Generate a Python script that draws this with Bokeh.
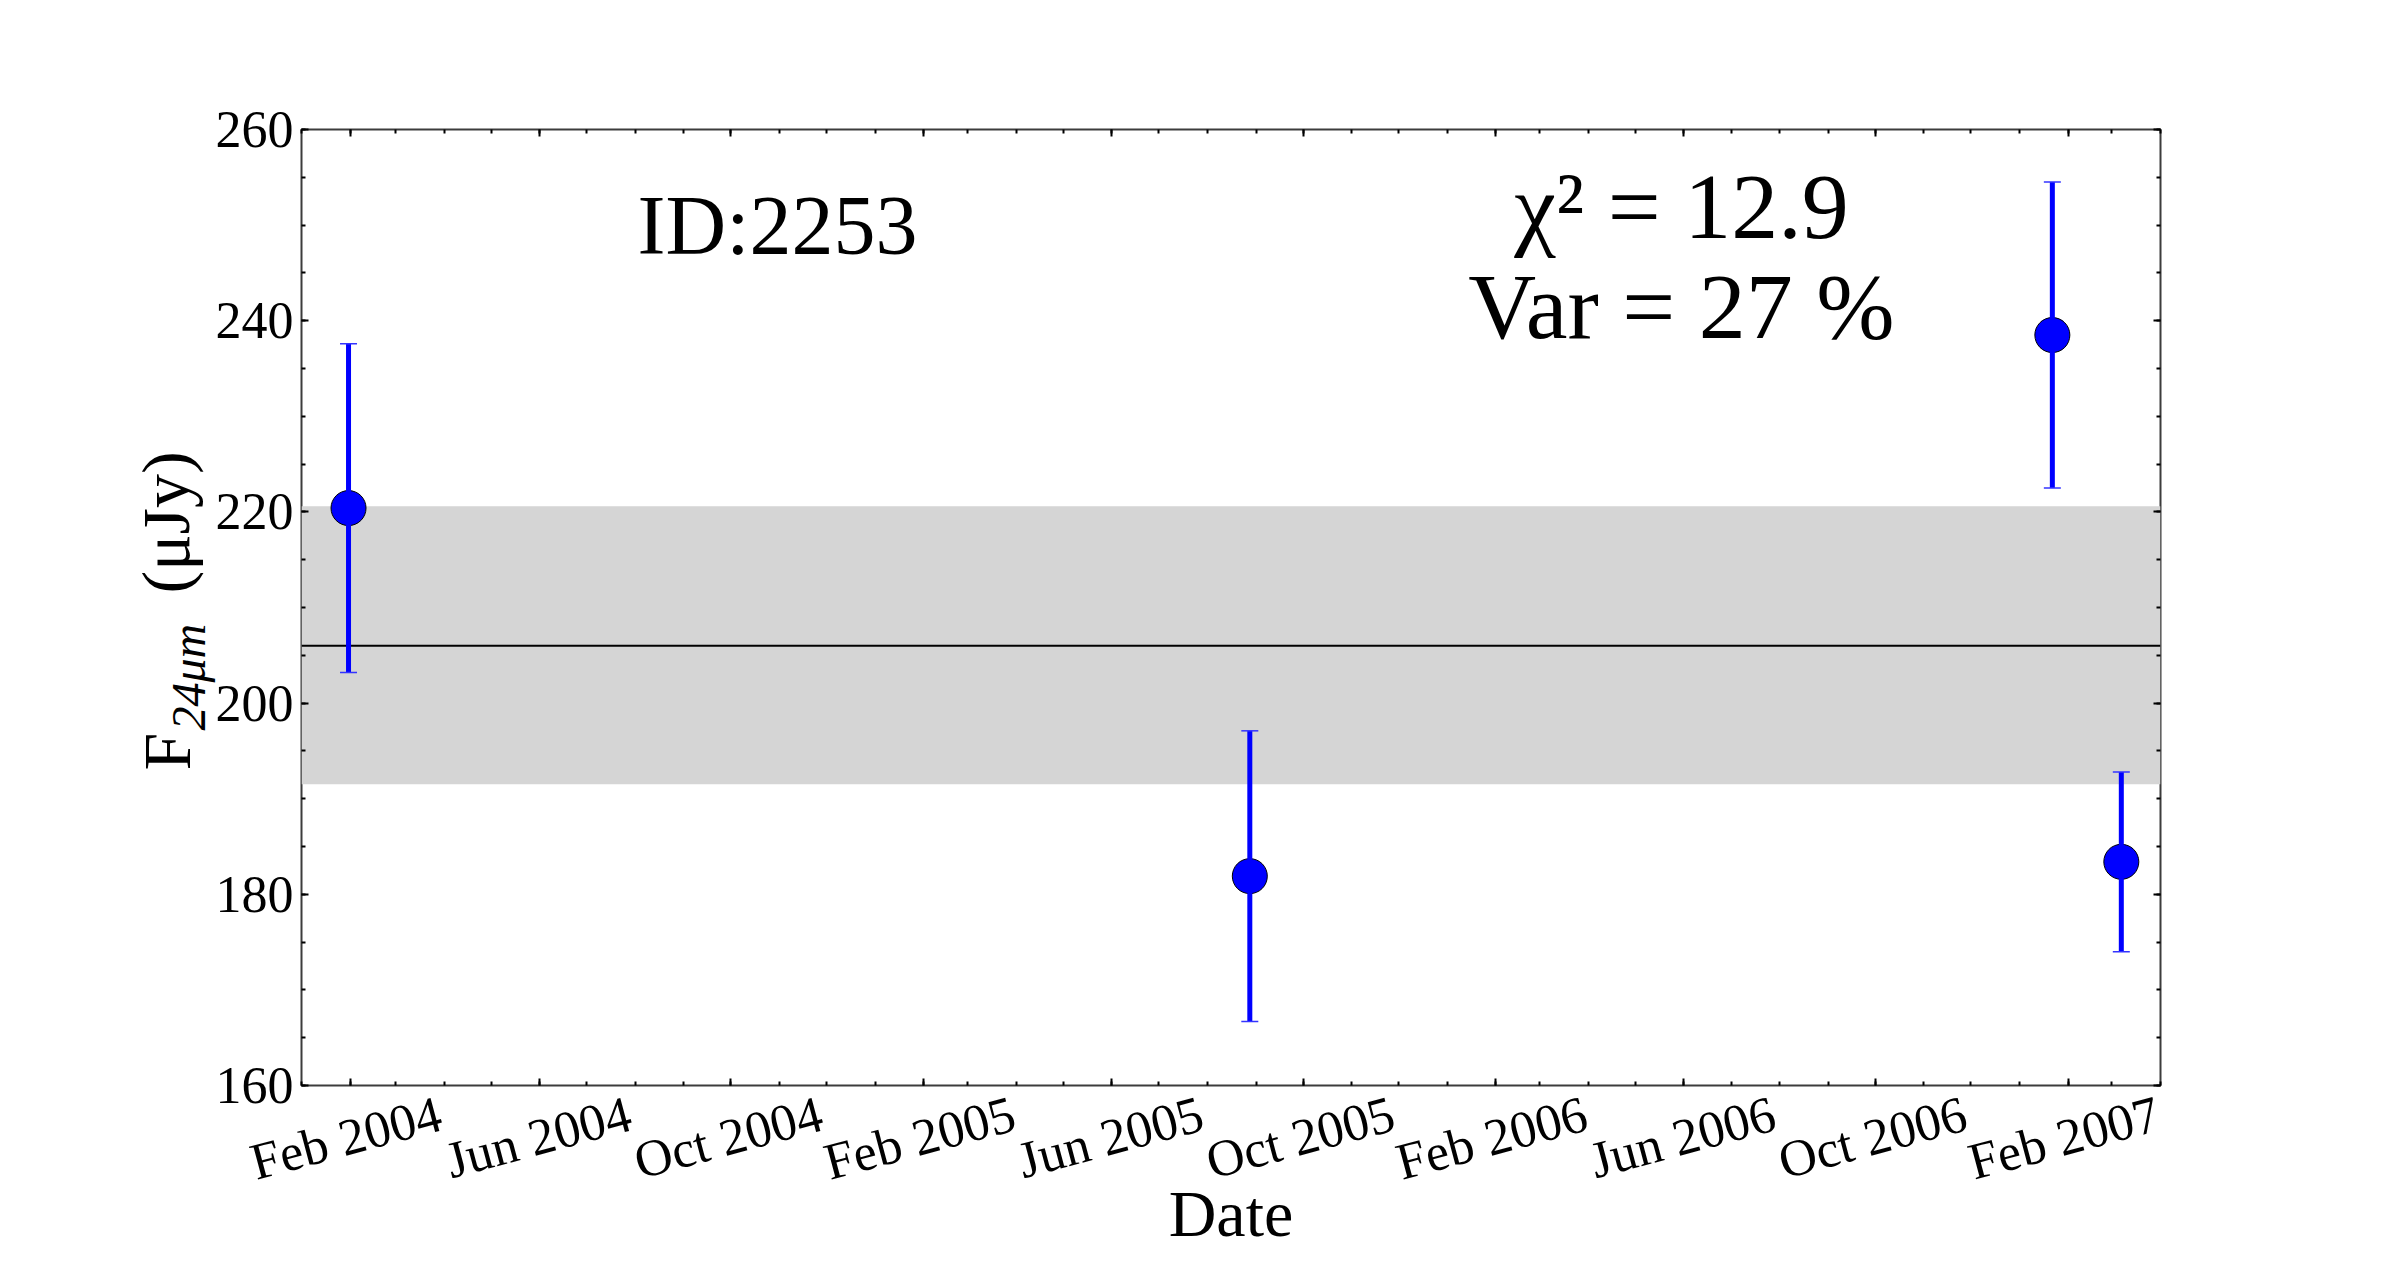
import math
import pandas as pd
from bokeh.plotting import figure
from bokeh.models import (Range1d, FixedTicker, DatetimeAxis, LinearAxis, Label,
                          ColumnDataSource, BoxAnnotation, Span, Whisker, TeeHead)
from bokeh.embed import file_html
from bokeh.resources import INLINE

# ---------------- data ----------------
obs_dates = ["2004-01-31", "2005-08-28", "2007-01-22", "2007-03-07"]
flux = [220.4, 181.9, 238.5, 183.4]
flux_err = [17.2, 15.2, 16.0, 9.4]

mean_flux = 206.0
band_low = 191.5
band_high = 220.6

source_id = "ID:2253"
chi2_text = "χ² = 12.9"
var_text = "Var = 27 %"

x_tick_dates = ["2004-02-01", "2004-06-01", "2004-10-01", "2005-02-01", "2005-06-01",
                "2005-10-01", "2006-02-01", "2006-06-01", "2006-10-01", "2007-02-01"]
x_tick_labels = ["Feb 2004", "Jun 2004", "Oct 2004", "Feb 2005", "Jun 2005",
                 "Oct 2005", "Feb 2006", "Jun 2006", "Oct 2006", "Feb 2007"]
x_start, x_end = "2004-01-01", "2007-04-01"
y_ticks = [160, 180, 200, 220, 240, 260]
y_minor_ticks = list(range(160, 261, 5))
y_start, y_end = 160, 260

FONT = "Liberation Serif"
FRAME_W, FRAME_H = 1859, 956


def ms(d):
    return pd.Timestamp(d).value / 1e6


minor_month_ms = [ms(d) for d in pd.date_range(x_start, x_end, freq="MS")]
major_ms = [ms(d) for d in x_tick_dates]

src = ColumnDataSource(dict(
    x=[ms(d) for d in obs_dates],
    y=flux,
    upper=[f + e for f, e in zip(flux, flux_err)],
    lower=[f - e for f, e in zip(flux, flux_err)],
))

p = figure(x_axis_type="datetime",
           x_range=Range1d(ms(x_start), ms(x_end)),
           y_range=Range1d(y_start, y_end),
           frame_width=FRAME_W, frame_height=FRAME_H,
           min_border_left=301, min_border_top=129,
           min_border_right=232, min_border_bottom=192,
           output_backend="svg", toolbar_location=None,
           background_fill_color="white", border_fill_color="white")

p.xgrid.visible = False
p.ygrid.visible = False
p.outline_line_color = "#3c3c3c"
p.outline_line_width = 2

# band and mean line
p.add_layout(BoxAnnotation(bottom=band_low, top=band_high, fill_color="#d5d5d5",
                           fill_alpha=1.0, line_color=None, level="underlay"))
p.add_layout(Span(location=mean_flux, dimension="width", line_color="black",
                  line_width=2, level="underlay"))

# error bars
p.add_layout(Whisker(base="x", upper="upper", lower="lower", source=src,
                     line_color="#0000ff", line_width=5,
                     upper_head=TeeHead(size=17, line_color="#3333ff", line_width=1.5),
                     lower_head=TeeHead(size=17, line_color="#3333ff", line_width=1.5),
                     level="glyph"))
p.scatter("x", "y", source=src, size=35, fill_color="#0000ff", line_color="black",
          line_width=1)


def style_axis(ax, ticker, show_labels, size="52px"):
    ax.ticker = ticker
    ax.axis_line_color = None
    ax.major_tick_in = 7
    ax.major_tick_out = 0
    ax.minor_tick_in = 4
    ax.minor_tick_out = 0
    ax.major_tick_line_color = "black"
    ax.major_tick_line_width = 2
    ax.minor_tick_line_color = "black"
    ax.minor_tick_line_width = 2
    ax.major_label_text_font = FONT
    if show_labels:
        ax.major_label_text_font_size = size
        ax.major_label_text_color = "black"
        ax.major_label_standoff = 8
    else:
        ax.major_label_text_font_size = "0px"
        ax.major_label_text_color = None
        ax.major_label_standoff = 0


xticker = FixedTicker(ticks=major_ms, minor_ticks=minor_month_ms)
yticker = FixedTicker(ticks=y_ticks, minor_ticks=y_minor_ticks)

# bottom axis: tick marks at the real dates
style_axis(p.xaxis[0], xticker, False)

# second bottom axis carrying only the rotated date labels.  Bokeh anchors a
# rotated label at its right end, so the label anchors are moved right by a fixed
# screen distance to centre each label on its tick, as in the reference.
LABEL_SHIFT_PX = 90
shift_ms = LABEL_SHIFT_PX * (ms(x_end) - ms(x_start)) / FRAME_W
label_ticks = [t + shift_ms for t in major_ms]
lab_ax = DatetimeAxis(ticker=FixedTicker(ticks=label_ticks, minor_ticks=[]))
lab_ax.axis_line_color = None
lab_ax.major_tick_line_color = None
lab_ax.minor_tick_line_color = None
lab_ax.major_tick_in = 0
lab_ax.major_tick_out = 0
lab_ax.minor_tick_in = 0
lab_ax.minor_tick_out = 0
lab_ax.major_label_overrides = {t: lab for t, lab in zip(label_ticks, x_tick_labels)}
lab_ax.major_label_orientation = math.radians(15)
lab_ax.major_label_text_font = FONT
lab_ax.major_label_text_font_size = "52px"
lab_ax.major_label_text_color = "black"
lab_ax.major_label_standoff = 27
lab_ax.axis_label = "Date"
lab_ax.axis_label_text_font = FONT
lab_ax.axis_label_text_font_size = "66px"
lab_ax.axis_label_text_font_style = "normal"
lab_ax.axis_label_text_color = "black"
lab_ax.axis_label_standoff = -44
p.add_layout(lab_ax, "below")

style_axis(p.yaxis[0], yticker, True)

top_ax = DatetimeAxis()
style_axis(top_ax, xticker, False)
p.add_layout(top_ax, "above")
right_ax = LinearAxis()
style_axis(right_ax, yticker, False)
p.add_layout(right_ax, "right")

# ---- y-axis title: F with a subscript, built from three rotated labels in the left panel
p.add_layout(Label(x=30, y=315, x_units="screen", y_units="screen", text="F",
                   angle=math.pi / 2, text_align="left", text_baseline="middle",
                   text_font=FONT, text_font_size="68px", text_color="black"), "left")
p.add_layout(Label(x=105, y=355, x_units="screen", y_units="screen", text="24μm",
                   angle=math.pi / 2, text_align="left", text_baseline="middle",
                   text_font=FONT, text_font_size="48px", text_font_style="italic",
                   text_color="black"), "left")
p.add_layout(Label(x=158, y=492, x_units="screen", y_units="screen", text="(μJy)",
                   angle=math.pi / 2, text_align="left", text_baseline="middle",
                   text_font=FONT, text_font_size="68px", text_color="black"), "left")

# ---- annotations inside the frame
p.add_layout(Label(x=476, y=860, x_units="screen", y_units="screen", text=source_id,
                   text_align="center", text_baseline="middle",
                   text_font=FONT, text_font_size="84px", text_color="black"))
p.add_layout(Label(x=1380, y=880, x_units="screen", y_units="screen", text=chi2_text,
                   text_align="center", text_baseline="middle",
                   text_font=FONT, text_font_size="94px", text_color="black"))
p.add_layout(Label(x=1380, y=780, x_units="screen", y_units="screen", text=var_text,
                   text_align="center", text_baseline="middle",
                   text_font=FONT, text_font_size="94px", text_color="black"))

open("out.html", "w").write(file_html(p, INLINE))
